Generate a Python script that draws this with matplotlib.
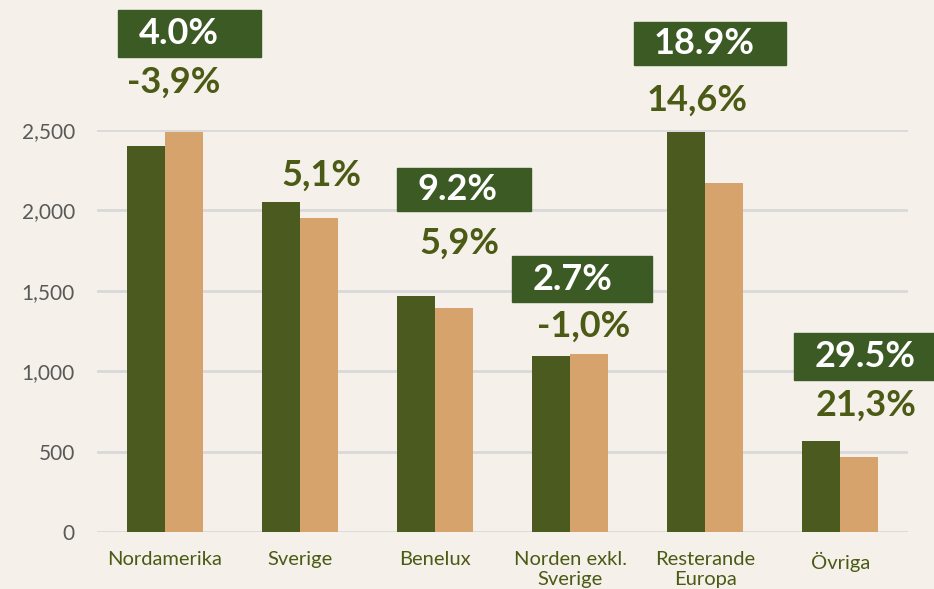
import matplotlib.pyplot as plt
from matplotlib.patches import Rectangle
import numpy as np

plt.rcParams['font.family'] = ['Lato', 'DejaVu Sans']

# data
categories = ["Nordamerika", "Sverige", "Benelux", "Norden exkl.\nSverige",
              "Resterande\nEuropa", "Övriga"]
series_a = [2400, 2050, 1470, 1095, 2485, 565]   # dark green
series_b = [2490, 1950, 1390, 1105, 2170, 465]   # tan
box_labels = ["4.0%", None, "9.2%", "2.7%", "18.9%", "29.5%"]
pct_labels = ["-3,9%", "5,1%", "5,9%", "-1,0%", "14,6%", "21,3%"]

# layout of the annotations (offset from category centre, data units)
box_left = [-0.345, 0, -0.28, -0.43, -0.53, -0.34]
box_width = [1.06, 0, 0.99, 1.04, 1.13, 1.04]
box_bottom = [2954, 0, 1996, 1430, 2904, 945]
box_top = [3246, 0, 2264, 1716, 3172, 1238]
pct_dx = [0.07, 0.16, 0.18, 0.10, -0.06, 0.19]
pct_y = [2800, 2220, 1797, 1280, 2687, 790]

bg = "#F5F1EA"
green = "#4B5A1E"
tan = "#D5A36B"
box_col = "#3C5A24"
olive = "#4B5A14"

fig = plt.figure(figsize=(9.34, 5.89), dpi=100, facecolor=bg)
ax = fig.add_axes([0.104, 0.0968, 0.868, 0.6825], facecolor=bg)

x = np.arange(len(categories))
w = 0.28
ax.bar(x - w / 2, series_a, w, color=green, zorder=3)
ax.bar(x + w / 2, series_b, w, color=tan, zorder=3)

ax.set_ylim(0, 2500)
ax.set_xlim(-0.5, len(categories) - 0.5)
ax.set_yticks([0, 500, 1000, 1500, 2000, 2500])
ax.set_yticklabels(["0", "500", "1,000", "1,500", "2,000", "2,500"])
ax.grid(axis="y", color="#D9D9D9", linewidth=2, zorder=0)
for s in ax.spines.values():
    s.set_visible(False)
ax.tick_params(axis="y", length=0, labelsize=15, labelcolor="#595959", pad=16)
ax.set_xticks(x)
ax.set_xticklabels(categories, fontsize=14.5, color=olive, linespacing=1.2)
ax.tick_params(axis="x", length=0, pad=14)

for i in range(len(categories)):
    if box_labels[i]:
        ax.add_patch(Rectangle((x[i] + box_left[i], box_bottom[i]), box_width[i],
                               box_top[i] - box_bottom[i], color=box_col,
                               clip_on=False, zorder=4))
        ax.text(x[i] + box_left[i] + 0.15, (box_bottom[i] + box_top[i]) / 2,
                box_labels[i], color="white", fontsize=26, fontweight="bold",
                ha="left", va="center", clip_on=False, zorder=5)
    ax.text(x[i] + pct_dx[i], pct_y[i], pct_labels[i], color=olive, fontsize=26,
            fontweight="bold", ha="center", va="center", clip_on=False, zorder=5)

fig.savefig("out.png", dpi=100, facecolor=bg)
